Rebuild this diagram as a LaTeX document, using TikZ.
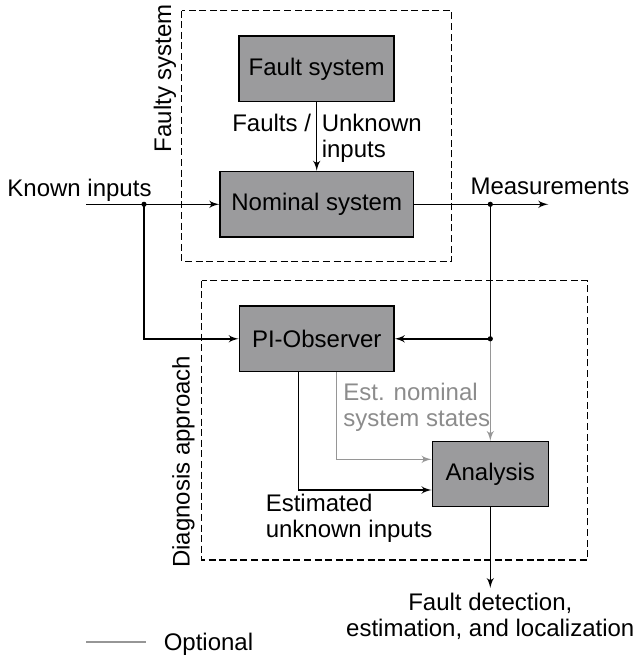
\documentclass[tikz,border=0pt]{standalone}
\usepackage{fontspec}
\setmainfont{Liberation Sans}
\usetikzlibrary{arrows}
\definecolor{boxgray}{RGB}{155,155,157}
\definecolor{optgray}{RGB}{150,150,150}
\definecolor{txtgray}{RGB}{140,140,140}

\begin{document}
\begin{tikzpicture}[->,>=latex',x=0.5pt,y=-0.5pt,line width=0.75pt,font=\fontsize{12}{13}\selectfont]
    \tikzstyle{block}=[draw,fill=boxgray,minimum height=32.8pt,inner sep=0pt]
    \tikzstyle{frame}=[-,dash pattern=on 3.5pt off 1.8pt,line width=0.6pt]
    \tikzstyle{optional}=[optgray]
    \tikzstyle{txt}=[inner sep=0pt]
    \tikzstyle{dot}=[-,fill]
    \useasboundingbox (0,0) rectangle (636,657);

    % frames
    \draw[frame] (181.7,10.7) rectangle (451.7,261.7);
    \draw[frame] (201.7,280.7) rectangle (587.3,560);
    \node[txt,rotate=90,anchor=base] (faulty) at (171,78.3) {Faulty system};
    \node[txt,rotate=90,anchor=base] (diag) at (189.7,461.7) {Diagnosis approach};

    % blocks
    \node[block,minimum width=77.5pt] (F) at (316.7,68.8) {Fault system};
    \node[block,minimum width=96.7pt] (N) at (316.7,204.3) {Nominal system};
    \node[block,minimum width=77.3pt] (O) at (316.7,338.8) {PI-Observer};
    \node[block,minimum width=58pt,minimum height=32.5pt] (A) at (490.3,474.2) {Analysis};

    \coordinate (in) at (86,204.3);
    \coordinate (u) at (144,204.3);
    \coordinate (y) at (490.3,204.3);
    \coordinate (out) at (548.3,204.3);
    \coordinate (ym) at (490.3,338.8);
    \coordinate (res) at (490.3,588);

    % texts (base = last line)
    \node[txt,anchor=base] (kin) at (79.5,196.7) {Known inputs};
    \node[txt,anchor=base] (meas) at (549.9,195) {Measurements};
    \node[txt,anchor=base east] (flt) at (311.7,131.7) {Faults /};
    \node[txt,anchor=base west,align=left] (unk) at (321,157.7) {Unknown\\inputs};
    \node[txt,anchor=base west,align=left,txtgray] (est) at (342.7,426.7) {Est. nominal\\system states};
    \node[txt,anchor=base west,align=left] (eui) at (265,537.5) {Estimated\\unknown inputs};
    \node[txt,anchor=base,align=center] (fd) at (490.3,636) {Fault detection,\\estimation, and localization};

    % signals
    \draw (in) -- (N);
    \draw (u) |- (O);
    \draw (N) -- (out);
    \draw (F) -- (N);
    \draw (y) -- (ym) -- (O);
    \draw[optional] (ym) -- (A);
    \draw ([xshift=-9.2pt]O.south) |- ([yshift=-7.9pt]A.west);
    \draw[optional] ([xshift=10pt]O.south) |- ([yshift=7.45pt]A.west);
    \draw (A) -- (res);
    \fill[dot] (u) circle (1.3pt);
    \fill[dot] (y) circle (1.3pt);
    \fill[dot] (ym) circle (1.3pt);

    % legend
    \coordinate (l1) at (86,642);
    \coordinate (l2) at (145.5,642);
    \draw[optional,-] (l1) -- (l2);
    \node[txt,anchor=base west] (opt) at (163,650) {Optional};
\end{tikzpicture}
\end{document}
